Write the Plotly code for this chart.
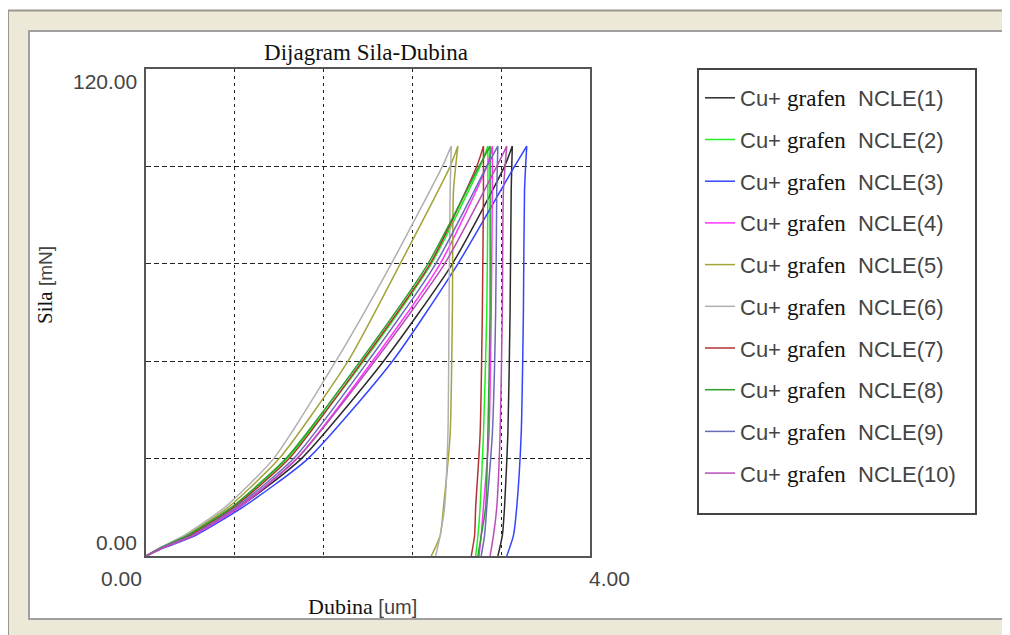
import plotly.graph_objects as go

LOAD_UP = [0, 2, 5, 12, 24, 48, 72, 96, 101]
LOAD_DOWN = [101, 90, 60, 30, 12, 5, 0]

names = ["Cu+ grafen  NCLE(%d)" % i for i in range(1, 11)]

# depth (um) on loading, per sample
up_1 = [0, 0.15, 0.42, 0.84, 1.40, 2.14, 2.76, 3.23, 3.30]
up_2 = [0, 0.14, 0.38, 0.78, 1.27, 1.96, 2.57, 3.01, 3.08]
up_3 = [0, 0.16, 0.44, 0.87, 1.46, 2.22, 2.81, 3.32, 3.43]
up_4 = [0, 0.15, 0.42, 0.84, 1.36, 2.04, 2.65, 3.07, 3.12]
up_5 = [0, 0.13, 0.36, 0.74, 1.20, 1.82, 2.29, 2.74, 2.81]
up_6 = [0, 0.12, 0.34, 0.71, 1.15, 1.71, 2.21, 2.67, 2.75]
up_7 = [0, 0.14, 0.39, 0.79, 1.29, 1.95, 2.56, 2.98, 3.04]
up_8 = [0, 0.13, 0.37, 0.77, 1.26, 1.93, 2.54, 3.00, 3.10]
up_9 = [0, 0.14, 0.41, 0.81, 1.33, 2.00, 2.61, 3.07, 3.17]
up_10 = [0, 0.15, 0.42, 0.83, 1.36, 2.06, 2.69, 3.16, 3.25]

# depth (um) on unloading
down_1 = [3.30, 3.29, 3.28, 3.26, 3.23, 3.21, 3.17]
down_2 = [3.08, 3.08, 3.07, 3.04, 3.01, 2.99, 2.97]
down_3 = [3.43, 3.41, 3.40, 3.38, 3.34, 3.31, 3.25]
down_4 = [3.12, 3.12, 3.11, 3.09, 3.04, 3.02, 3.00]
down_5 = [2.81, 2.77, 2.76, 2.74, 2.68, 2.65, 2.57]
down_6 = [2.75, 2.74, 2.73, 2.72, 2.69, 2.65, 2.61]
down_7 = [3.04, 3.04, 3.03, 3.01, 2.97, 2.96, 2.93]
down_8 = [3.10, 3.10, 3.10, 3.08, 3.06, 3.02, 2.99]
down_9 = [3.17, 3.16, 3.15, 3.12, 3.07, 3.05, 3.02]
down_10 = [3.25, 3.22, 3.21, 3.19, 3.16, 3.13, 3.10]

ups = [up_1, up_2, up_3, up_4, up_5, up_6, up_7, up_8, up_9, up_10]
downs = [down_1, down_2, down_3, down_4, down_5, down_6, down_7, down_8, down_9, down_10]

colors = ["#2b2b2b", "#22ee22", "#3344ff", "#ff33ff", "#a3a33a",
          "#b0b0b0", "#b33333", "#2e9e2e", "#6a6ab8", "#b84fb8"]

X_TICKS = ["0.00", "4.00"]
Y_TICKS = ["0.00", "120.00"]

SERIF = "Liberation Serif, Times New Roman, serif"
SANS = "Liberation Sans, Arial, sans-serif"

fig = go.Figure()

for i in range(10):
    name = names[i].replace(
        "grafen", "<span style='font-family:Liberation Serif;font-size:23px;color:#111'>grafen</span>")
    fig.add_trace(go.Scatter(x=ups[i] + downs[i], y=LOAD_UP + LOAD_DOWN,
                             mode="lines", name=name, legendgroup=str(i),
                             line=dict(color=colors[i], width=1.5,
                                       shape="spline", smoothing=0.6)))

# page has an 8px body margin; positions below are window pixels
OFF = 8


# plot area is 146..590 px wide, 69..556 px tall (window pixels)
def px(x):
    return (x - 146) / 444.0


def py(y):
    return (556 - y) / 487.0


shapes = [
    dict(type="rect", xref="paper", yref="paper", layer="below",
         x0=px(-10), x1=px(1020), y0=py(10), y1=py(-10),
         fillcolor="white", line=dict(width=0)),
    dict(type="rect", xref="paper", yref="paper", layer="below",
         x0=px(8), x1=px(1030), y0=py(650), y1=py(10.5),
         line=dict(color="#9a988c", width=2)),
    dict(type="rect", xref="paper", yref="paper", layer="below",
         x0=px(29), x1=px(1005), y0=py(619), y1=py(31),
         fillcolor="white", line=dict(color="#a0a0a0", width=2)),
    dict(type="rect", xref="paper", yref="paper", layer="below",
         x0=px(698), x1=px(976), y0=py(514), y1=py(69),
         line=dict(color="#444444", width=2)),
]

tick_font = dict(family=SANS, size=21, color="#444444")
annotations = [
    dict(text=Y_TICKS[1], x=0, y=1, xref="paper", yref="paper",
         xanchor="right", yanchor="top", xshift=-7, yshift=1, showarrow=False, font=tick_font),
    dict(text=Y_TICKS[0], x=0, y=0, xref="paper", yref="paper",
         xanchor="right", yanchor="bottom", xshift=-7, showarrow=False, font=tick_font),
    dict(text=X_TICKS[0], x=0, y=0, xref="paper", yref="paper",
         xanchor="right", yanchor="top", xshift=-2, yshift=-9, showarrow=False, font=tick_font),
    dict(text=X_TICKS[1], x=1, y=0, xref="paper", yref="paper",
         xanchor="left", yanchor="top", xshift=-3, yshift=-9, showarrow=False, font=tick_font),
    dict(text="<span style='font-family:Liberation Serif;font-size:22px;color:#111'>Dubina</span> [um]",
         x=px(362), y=py(606), xref="paper", yref="paper", xanchor="center", yanchor="middle",
         showarrow=False, font=dict(family=SANS, size=20, color="#444444")),
    dict(text="<span style='font-family:Liberation Serif;font-size:21px;color:#111'>Sila</span> [mN]",
         x=px(45), y=py(285), xref="paper", yref="paper", xanchor="center", yanchor="middle",
         textangle=-90, showarrow=False, font=dict(family=SANS, size=19, color="#444444")),
]

fig.update_layout(
    width=1010, height=635,
    margin=dict(l=146 - OFF, r=1010 - (590 - OFF), t=69 - OFF, b=635 - (556 - OFF)),
    paper_bgcolor="#ece9d8", plot_bgcolor="white",
    title=dict(text="Dijagram Sila-Dubina", x=(366 - OFF) / 1010, xref="container", xanchor="center",
               y=1 - (52 - OFF) / 635, yref="container", yanchor="middle",
               font=dict(family=SERIF, size=23, color="#111111")),
    shapes=shapes, annotations=annotations,
    showlegend=True,
    legend=dict(x=px(700), y=py(77), xanchor="left", yanchor="top",
                bgcolor="rgba(0,0,0,0)", borderwidth=0, tracegroupgap=10.1,
                font=dict(family=SANS, size=22, color="#444444")),
)

fig.update_xaxes(range=[0, 4], dtick=0.8, showticklabels=False, ticks="",
                 showgrid=True, gridcolor="#222222", gridwidth=1.2, griddash="3px,4px",
                 showline=True, linecolor="#555555", linewidth=2, mirror=True,
                 zeroline=False)
fig.update_yaxes(range=[0, 120], dtick=24, showticklabels=False, ticks="",
                 showgrid=True, gridcolor="#222222", gridwidth=1.2, griddash="5px,3px",
                 showline=True, linecolor="#555555", linewidth=2, mirror=True,
                 zeroline=False)

fig.write_html("out.html")
